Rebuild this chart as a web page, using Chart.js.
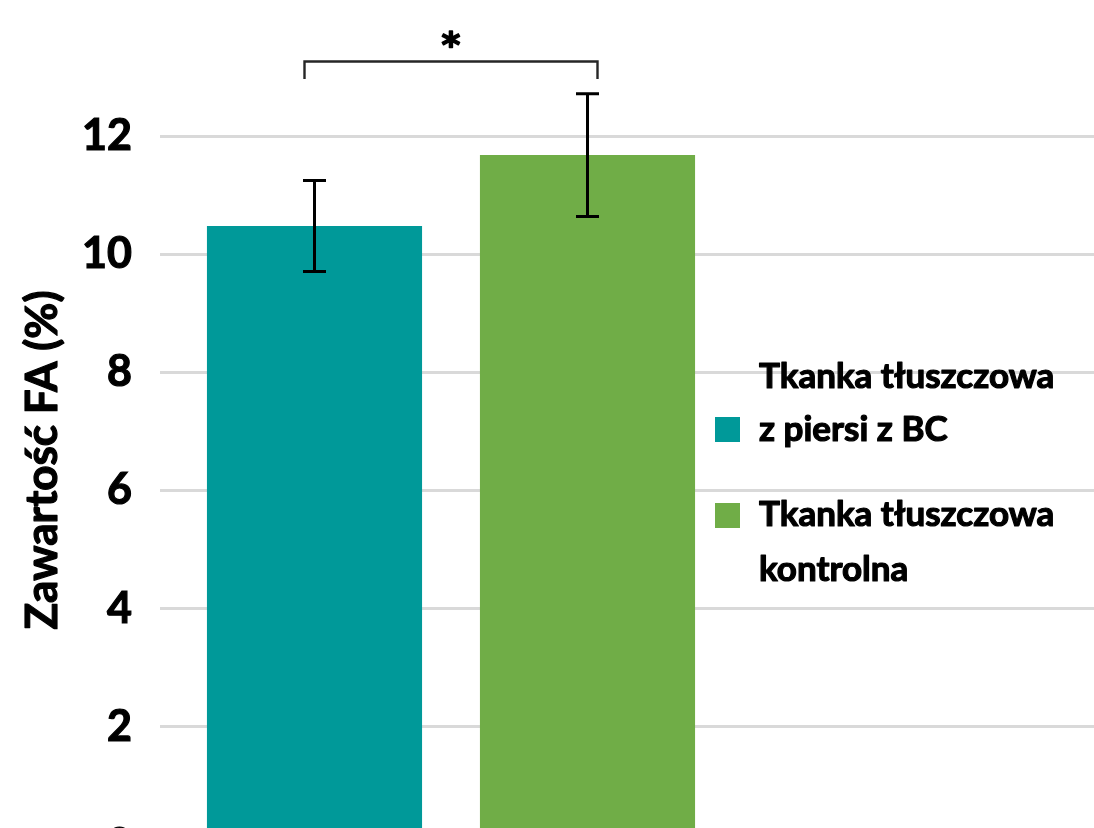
<!DOCTYPE html>
<html lang="pl">
<head>
<meta charset="utf-8">
<title>Zawartość FA</title>
<script src="https://cdn.jsdelivr.net/npm/chart.js@4.4.1/dist/chart.umd.min.js"></script>
<style>
  html, body { margin: 0; padding: 0; background: #ffffff; overflow: hidden; }
  #wrap { width: 1094px; height: 860px; }
</style>
</head>
<body>
<div id="wrap"><canvas id="chart" width="1094" height="860"></canvas></div>
<script>
// Data
const categories = [''];
const seriesNames = ['Tkanka tłuszczowa z piersi z BC', 'Tkanka tłuszczowa kontrolna'];
const legendLines = [['Tkanka tłuszczowa', 'z piersi z BC'], ['Tkanka tłuszczowa', 'kontrolna']];
const meanValues = [10.48, 11.68];
const errorValues = [0.77, 1.04];
const yTicks = [0, 2, 4, 6, 8, 10, 12];
const yAxisTitle = 'Zawartość FA (%)';
const significanceMark = '*';

const seriesColors = ['#009999', '#70AD47'];
const FONT = 'Lato, "Open Sans", sans-serif';
const GRID = '#d9d9d9';

function useTicks(scale) {
  scale.ticks = yTicks.map(v => ({ value: v }));
}

// Filled text with a thin outline for a heavier weight
function boldText(ctx, text, x, y, weight) {
  ctx.lineWidth = weight;
  ctx.lineJoin = 'round';
  ctx.strokeStyle = ctx.fillStyle;
  ctx.strokeText(text, x, y);
  ctx.fillText(text, x, y);
}

// Error bars drawn at each bar's centre from mean ± error
const errorBarPlugin = {
  id: 'errorBars',
  afterDatasetsDraw(chart) {
    const { ctx } = chart;
    const y = chart.scales.y;
    ctx.save();
    ctx.strokeStyle = '#000000';
    ctx.lineWidth = 3;
    chart.data.datasets.forEach((ds, i) => {
      const bar = chart.getDatasetMeta(i).data[0];
      const top = y.getPixelForValue(meanValues[i] + errorValues[i]);
      const bot = y.getPixelForValue(meanValues[i] - errorValues[i]);
      const cap = 11.5;
      ctx.beginPath();
      ctx.moveTo(bar.x, top); ctx.lineTo(bar.x, bot);
      ctx.moveTo(bar.x - cap, top); ctx.lineTo(bar.x + cap, top);
      ctx.moveTo(bar.x - cap, bot); ctx.lineTo(bar.x + cap, bot);
      ctx.stroke();
    });
    ctx.restore();
  }
};

// Significance bracket between the two groups
const bracketPlugin = {
  id: 'bracket',
  afterDatasetsDraw(chart, args, opts) {
    const { ctx } = chart;
    const y = chart.scales.y;
    const b0 = chart.getDatasetMeta(0).data[0];
    const b1 = chart.getDatasetMeta(1).data[0];
    const x0 = b0.x - opts.overhang;
    const x1 = b1.x + opts.overhang;
    const yl = Math.round(y.getPixelForValue(opts.level)) + 0.5;
    const ye = y.getPixelForValue(opts.drop);
    ctx.save();
    ctx.strokeStyle = '#262626';
    ctx.lineWidth = 2.4;
    ctx.beginPath();
    ctx.moveTo(x0, ye); ctx.lineTo(x0, yl); ctx.lineTo(x1, yl); ctx.lineTo(x1, ye);
    ctx.stroke();
    ctx.fillStyle = '#000000';
    ctx.font = 'bold 36px "DejaVu Sans", sans-serif';
    ctx.textAlign = 'center';
    ctx.textBaseline = 'alphabetic';
    const m = ctx.measureText(significanceMark);
    const cy = y.getPixelForValue(opts.markLevel);
    boldText(ctx, significanceMark, (x0 + x1) / 2,
      cy + (m.actualBoundingBoxAscent - m.actualBoundingBoxDescent) / 2, 1.5);
    ctx.restore();
  }
};

// Rotated value-axis title
const axisTitlePlugin = {
  id: 'axisTitle',
  afterDraw(chart, args, opts) {
    const { ctx } = chart;
    ctx.save();
    ctx.translate(opts.x, opts.y);
    ctx.rotate(-Math.PI / 2);
    ctx.fillStyle = '#000000';
    ctx.font = 'bold 44px ' + FONT;
    ctx.textAlign = 'center';
    ctx.textBaseline = 'middle';
    boldText(ctx, yAxisTitle, 0, 0, 1.2);
    ctx.restore();
  }
};

// Legend with two-line entries
const sideLegendPlugin = {
  id: 'sideLegend',
  afterDraw(chart, args, opts) {
    const { ctx } = chart;
    ctx.save();
    ctx.font = 'bold 35px ' + FONT;
    ctx.textAlign = 'left';
    ctx.textBaseline = 'alphabetic';
    opts.items.forEach((item, i) => {
      ctx.fillStyle = chart.data.datasets[i].backgroundColor;
      ctx.fillRect(opts.boxX, item.boxTop, opts.boxSize, opts.boxSize);
      ctx.fillStyle = '#000000';
      legendLines[i].forEach((line, j) => {
        boldText(ctx, line, opts.textX, item.baselines[j], 1.2);
      });
    });
    ctx.restore();
  }
};

function noEdgePadding(scale) {
  scale.paddingTop = 0;
  scale.paddingBottom = 0;
}

new Chart(document.getElementById('chart'), {
  type: 'bar',
  data: {
    labels: categories,
    datasets: seriesNames.map((name, i) => ({
      label: name,
      data: [meanValues[i]],
      backgroundColor: seriesColors[i],
      borderWidth: 0
    }))
  },
  options: {
    responsive: false,
    animation: false,
    layout: { padding: { top: 24, bottom: 15, left: 0, right: 0 } },
    datasets: { bar: { categoryPercentage: 1, barPercentage: 0.788 } },
    plugins: {
      legend: { display: false },
      tooltip: { enabled: false },
      bracket: { level: 13.27, drop: 12.97, markLevel: 13.63, overhang: 10 },
      axisTitle: { x: 43, y: 460 },
      sideLegend: {
        boxX: 715, boxSize: 25, textX: 759,
        items: [
          { boxTop: 417, baselines: [388, 441] },
          { boxTop: 503, baselines: [526, 581] }
        ]
      }
    },
    scales: {
      x: { display: false },
      y: {
        position: 'left',
        min: 0,
        max: 13.9,
        afterBuildTicks: useTicks,
        afterFit(scale) { scale.width = 178; noEdgePadding(scale); },
        grid: { color: GRID, lineWidth: 3, drawTicks: true, tickLength: 18, tickColor: GRID },
        border: { display: false },
        ticks: {
          padding: 28, color: '#000000',
          textStrokeColor: '#000000', textStrokeWidth: 1.2,
          font: { family: FONT, weight: 'bold', size: 43 }
        }
      },
      y2: {
        position: 'right',
        min: 0,
        max: 13.9,
        afterBuildTicks: useTicks,
        afterFit(scale) { scale.width = 370; noEdgePadding(scale); },
        grid: { drawOnChartArea: false, color: GRID, lineWidth: 3, drawTicks: true, tickLength: 370, tickColor: GRID },
        border: { display: false },
        ticks: { display: false }
      }
    }
  },
  plugins: [errorBarPlugin, bracketPlugin, axisTitlePlugin, sideLegendPlugin]
});
</script>
</body>
</html>
